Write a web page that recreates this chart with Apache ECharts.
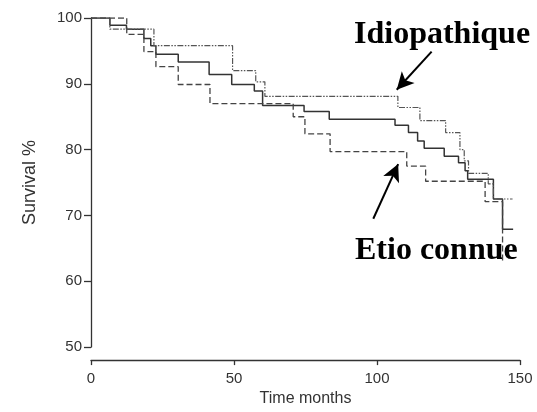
<!DOCTYPE html>
<html>
<head>
<meta charset="utf-8">
<script src="https://cdn.jsdelivr.net/npm/echarts@6/dist/echarts.min.js"></script>
<style>
html,body{margin:0;padding:0;background:#fff;}
#chart{width:537px;height:412px;}
</style>
</head>
<body>
<div id="chart"></div>
<script>
// Overall (solid) curve
const allTimes = [0, 6.6, 12.4, 18.5, 20.9, 22.7, 30.5, 41.3, 49.2, 57.1, 60.0, 74.5, 83.3, 106.3, 111.0, 114.2, 116.5, 123.5, 128.5, 130.8, 131.7, 140.7, 143.9, 147.6];
const allSurv  = [100, 98.9, 98.3, 96.9, 95.8, 94.5, 93.3, 91.4, 89.9, 88.9, 86.7, 85.8, 84.6, 83.7, 82.6, 81.3, 80.2, 79.0, 78.0, 76.8, 75.5, 72.5, 67.9, 67.9];
// Etio connue (dashed)
const etioTimes = [0, 12.5, 18.5, 22.7, 30.5, 41.6, 70.7, 74.8, 83.6, 110.4, 117.0, 137.8, 143.9];
const etioSurv  = [100, 97.5, 94.9, 92.6, 89.9, 87.0, 85.0, 82.4, 79.7, 77.5, 75.2, 72.1, 63.0];
// Idiopathique (dotted / dash-dot)
const idioTimes = [0, 6.6, 22.0, 49.5, 57.6, 60.8, 107.3, 115.0, 124.0, 129.0, 130.5, 132.0, 138.9, 140.7, 147.4];
const idioSurv  = [100, 98.3, 95.8, 92.0, 90.3, 88.1, 86.4, 84.4, 82.6, 80.0, 78.3, 76.4, 74.8, 72.5, 72.5];
// Axis ticks
const xTicks = [0, 50, 100, 150];
const yTicks = [50, 60, 70, 80, 90, 100];
// Annotation labels and arrow anchors (data coordinates)
const labelIdio = 'Idiopathique';
const labelEtio = 'Etio connue';
const arrowIdio = [[119.1, 94.9], [106.9, 89.1]];
const arrowEtio = [[98.7, 69.5], [107.4, 77.8]];

const zip = (a, b) => a.map((t, i) => [t, b[i]]);

const chart = echarts.init(document.getElementById('chart'), null, {renderer: 'canvas'});
const axisColor = '#333';
const font = 'Liberation Sans, Arial, sans-serif';
chart.setOption({
  animation: false,
  backgroundColor: '#fff',
  grid: {left: 91, right: 17, top: 18, bottom: 63},
  xAxis: {
    type: 'value', min: xTicks[0], max: xTicks[xTicks.length - 1], interval: 50,
    offset: 13,
    name: 'Time months', nameLocation: 'middle', nameGap: 30,
    nameTextStyle: {fontFamily: font, fontSize: 16, color: '#333'},
    axisLine: {onZero: false, lineStyle: {color: axisColor, width: 1.3}},
    axisTick: {length: 5, lineStyle: {color: axisColor, width: 1.3}},
    axisLabel: {margin: 11, fontFamily: font, fontSize: 15, color: '#333'},
    splitLine: {show: false}
  },
  yAxis: {
    type: 'value', min: yTicks[0], max: yTicks[yTicks.length - 1], interval: 10,
    name: 'Survival %', nameLocation: 'middle', nameGap: 52,
    nameTextStyle: {fontFamily: font, fontSize: 18, color: '#333'},
    axisLine: {show: true, lineStyle: {color: axisColor, width: 1.3}},
    axisTick: {show: true, length: 7, lineStyle: {color: axisColor, width: 1.3}},
    axisLabel: {margin: 9, fontFamily: font, fontSize: 15, color: '#333'},
    splitLine: {show: false}
  },
  series: [
    {
      type: 'line', step: 'end', showSymbol: false, silent: true,
      data: zip(allTimes, allSurv),
      lineStyle: {color: '#333', width: 1.5, type: 'solid'},
      markLine: {
        silent: true, symbol: ['none', 'arrow'], symbolSize: [13, 17],
        label: {show: false},
        lineStyle: {color: '#000', width: 2, type: 'solid'},
        data: [
          [{coord: arrowIdio[0]}, {coord: arrowIdio[1]}],
          [{coord: arrowEtio[0]}, {coord: arrowEtio[1]}]
        ]
      }
    },
    {
      type: 'line', step: 'end', showSymbol: false, silent: true,
      data: zip(etioTimes, etioSurv),
      lineStyle: {color: '#444', width: 1.3, type: [6, 3]}
    },
    {
      type: 'line', step: 'end', showSymbol: false, silent: true,
      data: zip(idioTimes, idioSurv),
      lineStyle: {color: '#555', width: 1.2, type: [1.5, 1.5, 1.5, 1.5, 6, 1.5]}
    }
  ],
  graphic: [
    {type: 'text', left: 354, top: 19, style: {text: labelIdio, font: 'bold 32px "Liberation Serif", "Times New Roman", serif', fill: '#000'}},
    {type: 'text', left: 355, top: 235, style: {text: labelEtio, font: 'bold 32px "Liberation Serif", "Times New Roman", serif', fill: '#000'}}
  ]
});
</script>
</body>
</html>
